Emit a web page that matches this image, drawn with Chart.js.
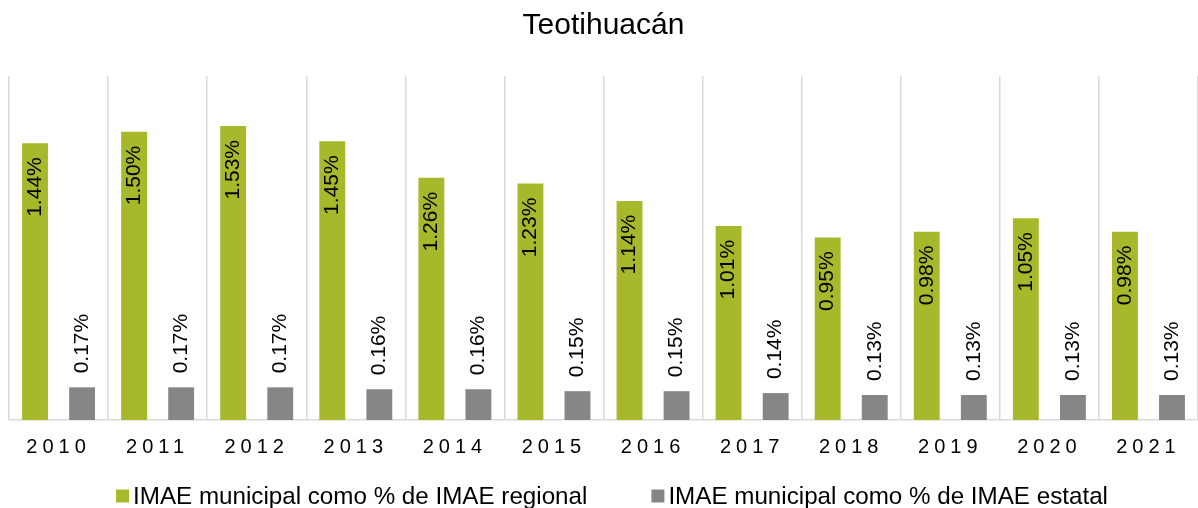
<!DOCTYPE html>
<html>
<head>
<meta charset="utf-8">
<script src="https://cdn.jsdelivr.net/npm/chart.js@4"></script>
<style>
  body { margin: 0; background: #fff; }
  canvas { display: block; }
</style>
</head>
<body>
<canvas id="bar-chart" width="1198" height="508"></canvas>
<script>
const YEARS = ["2010", "2011", "2012", "2013", "2014", "2015", "2016", "2017", "2018", "2019", "2020", "2021"];
const REGIONAL = [1.44, 1.5, 1.53, 1.45, 1.26, 1.23, 1.14, 1.01, 0.95, 0.98, 1.05, 0.98];
const ESTATAL = [0.17, 0.17, 0.17, 0.16, 0.16, 0.15, 0.15, 0.14, 0.13, 0.13, 0.13, 0.13];
const SERIES_NAMES = [
  "IMAE municipal como % de IMAE regional",
  "IMAE municipal como % de IMAE estatal",
];

const FONT = '"Liberation Sans", Arial, sans-serif';
Chart.defaults.font.family = FONT;

// rotated value labels: inside the top of green bars, above the gray ones
const barLabels = {
  id: "barLabels",
  afterDatasetsDraw(chart) {
    const ctx = chart.ctx;
    chart.data.datasets.forEach((ds, i) => {
      const meta = chart.getDatasetMeta(i);
      meta.data.forEach((bar, j) => {
        const text = ds.data[j].toFixed(2) + "%";
        ctx.save();
        ctx.font = "21px " + FONT;
        ctx.fillStyle = "#000";
        ctx.textBaseline = "middle";
        if (i === 0) {
          ctx.translate(bar.x, bar.y + 14);
          ctx.rotate(-Math.PI / 2);
          ctx.textAlign = "right";
        } else {
          ctx.translate(bar.x, bar.y - 14);
          ctx.rotate(-Math.PI / 2);
          ctx.textAlign = "left";
        }
        ctx.fillText(text, 0, 0);
        ctx.restore();
      });
    });
    // spaced-out year labels (x ticks are drawn after this, z = 1)
    ctx.letterSpacing = "5px";
  },
  afterDraw(chart) {
    const ctx = chart.ctx;
    ctx.letterSpacing = "0px";
    // legend
    ctx.save();
    ctx.font = "24.2px " + FONT;
    ctx.textBaseline = "middle";
    const box = 13, gapText = 4, gapItem = 64, y = 496;
    const widths = chart.data.datasets.map((ds) => box + gapText + ctx.measureText(ds.label).width);
    const total = widths.reduce((a, b) => a + b, 0) + gapItem * (widths.length - 1);
    let x = (chart.width - total) / 2 + 13;
    chart.data.datasets.forEach((ds, i) => {
      ctx.fillStyle = ds.backgroundColor;
      ctx.fillRect(x, y - box / 2, box, box);
      ctx.fillStyle = "#000";
      ctx.textAlign = "left";
      ctx.fillText(ds.label, x + box + gapText, y + 1);
      x += widths[i] + gapItem;
    });
    ctx.restore();
  },
};

new Chart(document.getElementById("bar-chart"), {
  type: "bar",
  data: {
    labels: YEARS,
    datasets: [
      {
        label: SERIES_NAMES[0],
        data: REGIONAL,
        backgroundColor: "#a7b92a",
        categoryPercentage: 0.95,
        barPercentage: 0.55,
      },
      {
        label: SERIES_NAMES[1],
        data: ESTATAL,
        backgroundColor: "#868686",
        categoryPercentage: 0.95,
        barPercentage: 0.55,
      },
    ],
  },
  options: {
    responsive: false,
    animation: false,
    layout: {
      padding: { left: 9, right: 0, bottom: 34 },
    },
    scales: {
      x: {
        grid: {
          color: "#d9d9d9",
          lineWidth: 1.5,
          drawTicks: false,
          offset: true,
        },
        border: { color: "#d9d9d9", width: 1.5 },
        ticks: {
          color: "#000",
          font: { size: 20 },
          padding: 15,
          maxRotation: 0,
          z: 1,
        },
      },
      y: {
        display: false,
        min: 0,
        max: 1.79,
      },
    },
    plugins: {
      title: {
        display: true,
        text: "Teotihuacán",
        color: "#000",
        font: { size: 30, weight: "normal" },
        padding: { top: 8, bottom: 32 },
      },
      legend: { display: false },
      tooltip: { enabled: false },
    },
  },
  plugins: [barLabels],
});
</script>
</body>
</html>
